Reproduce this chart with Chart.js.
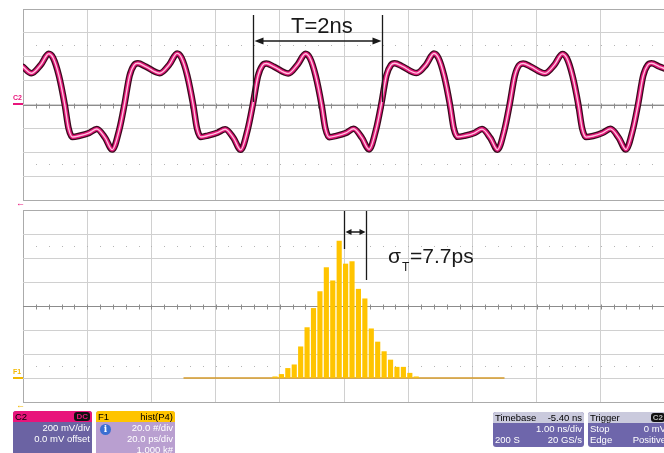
<!DOCTYPE html>
<html>
<head>
<meta charset="utf-8">
<script src="https://cdn.jsdelivr.net/npm/chart.js@4.4.1/dist/chart.umd.min.js"></script>
<style>
  html, body { margin: 0; padding: 0; }
  body {
    width: 664px; height: 453px; overflow: hidden; position: relative;
    background: #ffffff; font-family: "Liberation Sans", Arial, sans-serif;
  }
  .panel { position: absolute; left: 0; width: 670px; height: 210px; }
  .chan { position: absolute; font-size: 7px; font-weight: bold; line-height: 7px; }
  .chan i { position: absolute; left: 0; width: 10px; height: 2px; top: 9px; }
  .arrow { position: absolute; font-size: 9px; line-height: 9px; font-weight: bold; }
  .box {
    position: absolute; border-radius: 3px; overflow: hidden;
    font-size: 9.5px; line-height: 11px; color: #fff;
  }
  .box .hd { height: 11px; color: #000; padding: 0 2px; position: relative; }
  .box .row { height: 11px; padding: 0 2px; position: relative; }
  .box .l { position: absolute; left: 2px; }
  .box .r { position: absolute; right: 2px; }
  .badge {
    position: absolute; right: 2px; top: 1px; height: 9px; line-height: 9px;
    background: #111; border-radius: 3px; font-size: 8px; font-weight: bold; padding: 0 2px;
  }
  .info {
    position: absolute; left: 4px; top: 13px; width: 11px; height: 11px; border-radius: 50%;
    background: #3b6fd2; color: #fff; font-size: 9px; line-height: 11px; text-align: center;
    font-weight: bold; font-family: "DejaVu Serif", serif;
  }
</style>
</head>
<body>
<div class="panel" style="top:0"><canvas id="scopeChart"></canvas></div>
<div class="panel" style="top:200px"><canvas id="histChart"></canvas></div>

<div class="chan" style="left:13px;top:94px;color:#e8157b">C2<i style="background:#e8157b"></i></div>
<div class="chan" style="left:13px;top:368px;color:#f2b800">F1<i style="background:#f2b800"></i></div>
<div class="arrow" style="left:16px;top:199px;color:#e8157b">&#8592;</div>
<div class="arrow" style="left:16px;top:401px;color:#f2b800">&#8592;</div>

<div class="box" style="left:13px;top:411px;width:79px;height:50px;background:#6b63a3">
  <div class="hd" style="background:#e8157b"><span class="l">C2</span><span class="badge" style="color:#e8157b">DC</span></div>
  <div class="row"><span class="r">200 mV/div</span></div>
  <div class="row"><span class="r">0.0 mV offset</span></div>
</div>
<div class="box" style="left:96px;top:411px;width:79px;height:50px;background:#b99fd0">
  <div class="hd" style="background:#ffc400"><span class="l">F1</span><span class="r">hist(P4)</span></div>
  <div class="info">i</div>
  <div class="row"><span class="r">20.0 #/div</span></div>
  <div class="row"><span class="r">20.0 ps/div</span></div>
  <div class="row"><span class="r">1.000 k#</span></div>
</div>
<div class="box" style="left:493px;top:412px;width:91px;height:35px;background:#6e66ab">
  <div class="hd" style="background:#cacadd"><span class="l">Timebase</span><span class="r">-5.40 ns</span></div>
  <div class="row"><span class="r">1.00 ns/div</span></div>
  <div class="row"><span class="l">200 S</span><span class="r">20 GS/s</span></div>
</div>
<div class="box" style="left:588px;top:412px;width:82px;height:35px;background:#6e66ab">
  <div class="hd" style="background:#cacadd"><span class="l">Trigger</span><span class="badge" style="color:#bbb;right:5px">C2</span></div>
  <div class="row"><span class="l">Stop</span><span class="r" style="right:4px">0 mV</span></div>
  <div class="row"><span class="l">Edge</span><span class="r" style="right:4px">Positive</span></div>
</div>

<script>
const waveTimes = [
  0.00, 0.13, 0.28, 0.40, 0.47, 0.56, 0.65, 0.71, 0.77, 0.88, 1.03, 1.15, 1.28, 1.39, 1.50, 1.58,
  1.66, 1.73, 1.79, 1.91, 2.13, 2.28, 2.40, 2.47, 2.56, 2.65, 2.71, 2.77, 2.88, 3.03, 3.15, 3.28, 3.39, 3.50, 3.58,
  3.66, 3.73, 3.79, 3.91, 4.13, 4.28, 4.40, 4.47, 4.56, 4.65, 4.71, 4.77, 4.88, 5.03, 5.15, 5.28, 5.39, 5.50, 5.58,
  5.66, 5.73, 5.79, 5.91, 6.13, 6.28, 6.40, 6.47, 6.56, 6.65, 6.71, 6.77, 6.88, 7.03, 7.15, 7.28, 7.39, 7.50, 7.58,
  7.66, 7.73, 7.79, 7.91, 8.13, 8.28, 8.40, 8.47, 8.56, 8.65, 8.71, 8.77, 8.88, 9.03, 9.15, 9.28, 9.39, 9.50, 9.58,
  9.66, 9.73, 9.79, 9.91, 10.00
];
const waveMillivolts = [
  315, 262, 335, 425, 390, 240, 0, -200, -272, -262, -238, -205, -280, -378, -210, 0,
  240, 330, 345, 318, 262, 335, 428, 390, 240, 0, -200, -272, -260, -236, -207, -282, -380, -210, 0,
  238, 328, 343, 316, 260, 337, 425, 388, 238, 0, -202, -274, -263, -238, -203, -280, -376, -208, 0,
  242, 330, 346, 319, 263, 335, 427, 391, 240, 0, -200, -271, -262, -239, -206, -281, -379, -211, 0,
  240, 331, 344, 317, 261, 334, 424, 389, 239, 0, -201, -273, -264, -237, -204, -279, -377, -209, 0,
  240, 330, 345, 318, 300
];

// F1 histogram of period (ps offset from mean) and counts
const histBinPs = [
  -21.5, -19.5, -17.5, -15.5, -13.5, -11.5, -9.5, -7.5, -5.5, -3.5, -1.5, 0.5,
  2.5, 4.5, 6.5, 8.5, 10.5, 12.5, 14.5, 16.5, 18.5, 20.5, 22.5
];
const histCounts = [
  1, 3, 8, 11, 26, 42, 58, 72, 92, 81, 114, 95,
  97, 74, 66, 41, 30, 22, 15, 9, 9, 4, 1
];
const histSpanPs = [-50, 50];

// T and sigma markers
const periodMarksNs = [3.58, 5.585];
const sigmaMarksPs = [0, 7.0];

const pts = (xs, ys) => xs.map((x, i) => ({ x: x, y: ys[i] }));

// minor ticks on the centre line and dotted rows, like the scope grid
function scopeGrid(centerY, dotRowsY) {
  return {
    id: 'scopeGrid',
    beforeDatasetsDraw(chart) {
      const { ctx, chartArea: a, scales } = chart;
      const x = scales.x;
      const step = (x.max - x.min) / 50;
      ctx.save();
      const cy = Math.round(scales.y.getPixelForValue(centerY)) + 0.5;
      ctx.strokeStyle = '#8c8c8c';
      ctx.lineWidth = 1;
      ctx.beginPath();
      ctx.moveTo(a.left, cy);
      ctx.lineTo(a.right, cy);
      ctx.stroke();
      for (let i = 1; i < 50; i++) {
        const px = Math.round(x.getPixelForValue(x.min + i * step)) + 0.5;
        ctx.beginPath();
        ctx.moveTo(px, cy - 2);
        ctx.lineTo(px, cy + 3);
        ctx.stroke();
        ctx.fillStyle = '#b4b4b4';
        dotRowsY.forEach(v => {
          ctx.fillRect(px - 0.5, Math.round(scales.y.getPixelForValue(v)), 1, 1);
        });
      }
      ctx.restore();
    }
  };
}

function arrowHead(ctx, x, y, dir, len, half) {
  ctx.beginPath();
  ctx.moveTo(x, y);
  ctx.lineTo(x - dir * len, y - half);
  ctx.lineTo(x - dir * len, y + half);
  ctx.closePath();
  ctx.fill();
}

const periodMarker = {
  id: 'periodMarker',
  afterDatasetsDraw(chart) {
    const { ctx, scales } = chart;
    const x1 = Math.round(scales.x.getPixelForValue(periodMarksNs[0])) + 0.5;
    const x2 = Math.round(scales.x.getPixelForValue(periodMarksNs[1])) + 0.5;
    const yBot = scales.y.getPixelForValue(20);
    ctx.save();
    ctx.strokeStyle = '#1a1a1a';
    ctx.fillStyle = '#1a1a1a';
    ctx.lineWidth = 1.3;
    ctx.beginPath();
    ctx.moveTo(x1, 15); ctx.lineTo(x1, yBot);
    ctx.moveTo(x2, 15); ctx.lineTo(x2, yBot);
    ctx.moveTo(x1 + 6, 41); ctx.lineTo(x2 - 6, 41);
    ctx.stroke();
    arrowHead(ctx, x1 + 1, 41, -1, 9, 3.5);
    arrowHead(ctx, x2 - 1, 41, 1, 9, 3.5);
    ctx.font = '22px "Liberation Sans", Arial, sans-serif';
    ctx.textBaseline = 'alphabetic';
    ctx.fillText('T=2ns', 291, 32.5);
    ctx.restore();
  }
};

const sigmaMarker = {
  id: 'sigmaMarker',
  afterDatasetsDraw(chart) {
    const { ctx, scales } = chart;
    const x1 = Math.round(scales.x.getPixelForValue(sigmaMarksPs[0])) + 0.5;
    const x2 = Math.round(scales.x.getPixelForValue(sigmaMarksPs[1])) + 0.5;
    ctx.save();
    ctx.strokeStyle = '#1a1a1a';
    ctx.fillStyle = '#1a1a1a';
    ctx.lineWidth = 1.3;
    ctx.beginPath();
    ctx.moveTo(x1, 11); ctx.lineTo(x1, 49);
    ctx.moveTo(x2, 11); ctx.lineTo(x2, 80);
    ctx.moveTo(x1 + 4, 32); ctx.lineTo(x2 - 4, 32);
    ctx.stroke();
    arrowHead(ctx, x1 + 1, 32, -1, 6, 3);
    arrowHead(ctx, x2 - 1, 32, 1, 6, 3);
    ctx.font = '21px "Liberation Sans", Arial, sans-serif';
    ctx.textBaseline = 'alphabetic';
    ctx.fillText('\u03C3', 388, 63);
    ctx.font = '12px "Liberation Sans", Arial, sans-serif';
    ctx.fillText('T', 402, 71);
    ctx.font = '21px "Liberation Sans", Arial, sans-serif';
    ctx.fillText('=7.7ps', 410, 63);
    ctx.restore();
  }
};

function gridScale(min, max, step) {
  return {
    type: 'linear', min: min, max: max, offset: false,
    ticks: { display: false, stepSize: step },
    grid: {
      offset: false,
      drawTicks: false,
      color: c => (c.tick && (c.tick.value === min || c.tick.value === max)) ? '#ababab' : '#d0d0d0',
      lineWidth: 1
    },
    border: { display: false }
  };
}

// top: waveform screen (dark halo, magenta body, light core)
new Chart(document.getElementById('scopeChart'), {
  type: 'line',
  data: {
    datasets: [
      { data: pts(waveTimes, waveMillivolts), borderColor: '#3a0a1e', borderWidth: 6.5, order: 2 },
      { data: pts(waveTimes, waveMillivolts), borderColor: '#e2187a', borderWidth: 4, order: 1 },
      { data: pts(waveTimes, waveMillivolts), borderColor: '#ffc4de', borderWidth: 1.4, order: 0 }
    ]
  },
  options: {
    responsive: true, maintainAspectRatio: false, animation: false,
    layout: { padding: { left: 23, top: 9, right: 5, bottom: 10 } },
    elements: {
      point: { radius: 0 },
      line: { cubicInterpolationMode: 'monotone', borderCapStyle: 'round', borderJoinStyle: 'round' }
    },
    plugins: { legend: { display: false }, tooltip: { enabled: false } },
    scales: {
      x: gridScale(0, 10, 1),
      y: gridScale(-800, 800, 200)
    }
  },
  plugins: [scopeGrid(0, [500, -500]), periodMarker]
});

// bottom: histogram screen
new Chart(document.getElementById('histChart'), {
  type: 'bar',
  data: {
    datasets: [
      {
        data: pts(histBinPs, histCounts),
        backgroundColor: '#ffc400', borderWidth: 0,
        barThickness: 4.5, order: 0
      },
      {
        type: 'line',
        data: pts(histSpanPs, [0, 0]),
        borderColor: '#d49a2a', borderWidth: 1.5, pointRadius: 0, order: 1
      }
    ]
  },
  options: {
    responsive: true, maintainAspectRatio: false, animation: false,
    layout: { padding: { left: 23, top: 10, right: 5, bottom: 8 } },
    plugins: { legend: { display: false }, tooltip: { enabled: false } },
    scales: {
      x: gridScale(-100, 100, 20),
      y: gridScale(-20, 140, 20)
    }
  },
  plugins: [scopeGrid(60, [110, 10]), sigmaMarker]
});
</script>
</body>
</html>
